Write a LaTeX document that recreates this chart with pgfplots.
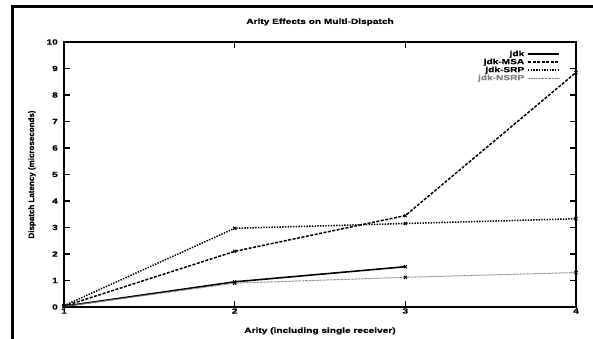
\documentclass[border=0pt]{standalone}
\usepackage{pgfplots}
\pgfplotsset{compat=1.18}
\usepackage{fontspec}
\setmainfont{Liberation Sans}[FakeStretch=1.35,FakeBold=0.6]
\newfontfamily\plainfont{Liberation Sans}[FakeBold=0.6]
\begin{document}
\begin{tikzpicture}[x=1pt,y=1pt]
\useasboundingbox (0,0) rectangle (593,339);
\clip (0,0) rectangle (593,339);
\draw[line width=3pt] (12.5,-20) -- (12.5,332.5) -- (620,332.5);
\begin{axis}[
  at={(64pt,32pt)}, anchor=south west,
  scale only axis, width=512pt, height=265pt,
  xmin=1, xmax=4, ymin=0, ymax=10,
  xtick={1,2,3,4}, ytick={0,1,...,10},
  tick align=inside, major tick length=6pt,
  axis line style={line width=2pt},
  tick style={line width=1.2pt, black},
  ticklabel style={font=\fontsize{7.5}{8}\selectfont\bfseries},
  /pgf/number format/assume math mode=true,
  xticklabel style={anchor=center, yshift=-4pt},
  yticklabel style={anchor=east, inner sep=0pt, xshift=-6pt},
  title={Arity Effects on Multi-Dispatch},
  title style={font=\fontsize{7.5}{8}\selectfont\bfseries, at={(axis description cs:0.5,1)}, anchor=center, yshift=14pt},
  xlabel={Arity (including single receiver)},
  xlabel style={font=\fontsize{7.5}{8}\selectfont\bfseries, at={(axis description cs:0.5,0)}, anchor=center, yshift=-24pt},
  ylabel={Dispatch Latency (microseconds)},
  ylabel style={font=\plainfont\fontsize{8}{9}\selectfont\bfseries, at={(axis description cs:-0.0625,0.5)}, anchor=center},
  legend cell align=right,
  legend plot pos=right,
  legend image code/.code={\draw[#1] (0pt,0pt) -- (31pt,0pt);},
  legend style={at={(rel axis cs:1,1)}, anchor=north east, xshift=-13pt, yshift=-6pt,
    draw=none, fill=none, font=\fontsize{7.5}{8}\selectfont\bfseries,
    row sep=0pt, column sep=2pt,
    nodes={inner ysep=0pt, inner xsep=1pt, text height=6pt, text depth=2pt}},
  every axis plot/.append style={mark options={solid, line width=0.9pt}, mark size=2.2pt},
]
\addplot[black, line width=1.6pt, mark=x] coordinates {(1,0.03) (2,0.95) (3,1.52)};
\addlegendentry{jdk}
\addplot[black, line width=1.5pt, dash pattern=on 3pt off 1.5pt, mark=x] coordinates {(1,0.03) (2,2.1) (3,3.45) (4,8.85)};
\addlegendentry{jdk-MSA}
\addplot[black, line width=1.5pt, dash pattern=on 1.4pt off 1.3pt, mark=x] coordinates {(1,0.05) (2,2.97) (3,3.15) (4,3.33)};
\addlegendentry{jdk-SRP}
\addplot[gray, line width=1pt, dash pattern=on 0.8pt off 0.6pt, mark=x, mark options={black,solid}] coordinates {(1,0.02) (2,0.9) (3,1.12) (4,1.3)};
\addlegendentry{\textcolor{gray}{jdk-NSRP}}
\end{axis}
\end{tikzpicture}
\end{document}
